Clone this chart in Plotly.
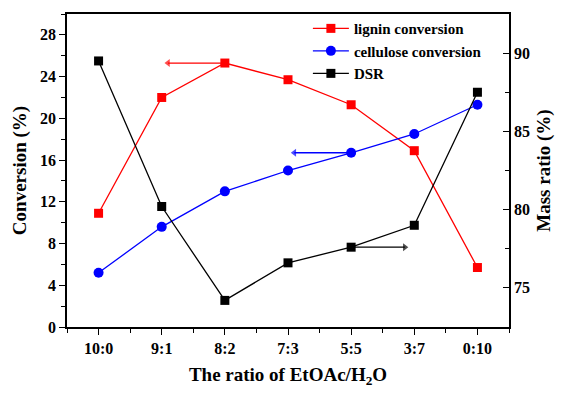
import plotly.graph_objects as go

categories = ["10:0", "9:1", "8:2", "7:3", "5:5", "3:7", "0:10"]
lignin = [10.9, 22.0, 25.3, 23.7, 21.3, 16.9, 5.7]
cellulose = [5.2, 9.6, 13.0, 15.0, 16.7, 18.5, 21.3]
dsr = [89.5, 80.2, 74.2, 76.6, 77.6, 79.0, 87.5]

xs = list(range(len(categories)))
FONT = "Liberation Serif"

fig = go.Figure()
fig.add_trace(go.Scatter(x=xs, y=lignin, name="lignin conversion", mode="lines+markers",
                         line=dict(color="#ff0000", width=1.3),
                         marker=dict(symbol="square", size=9, color="#ff0000")))
fig.add_trace(go.Scatter(x=xs, y=cellulose, name="cellulose conversion", mode="lines+markers",
                         line=dict(color="#0000ff", width=1.3),
                         marker=dict(symbol="circle", size=10, color="#0000ff")))
fig.add_trace(go.Scatter(x=xs, y=dsr, name="DSR", mode="lines+markers", yaxis="y2",
                         line=dict(color="#000000", width=1.3),
                         marker=dict(symbol="square", size=9, color="#000000")))


# arrows pointing to the axis each series belongs to (drawn as line + arrowhead marker)
def add_arrow(x0, x1, y, color, yaxis, head):
    fig.add_trace(go.Scatter(x=[x0, x1], y=[y, y], mode="lines+markers", yaxis=yaxis,
                             line=dict(color=color, width=1.3), showlegend=False, hoverinfo="skip",
                             marker=dict(symbol=["circle", head], size=[0, 7], color=color,
                                         line=dict(width=0))))


add_arrow(xs[2], xs[2] - 0.9, lignin[2], "#ff0000", "y", "triangle-left")
add_arrow(xs[4], xs[4] - 0.9, cellulose[4], "#0000ff", "y", "triangle-left")
add_arrow(xs[4], xs[4] + 0.85, dsr[4], "#000000", "y2", "triangle-right")

tickfont = dict(family=FONT, size=16, color="black", weight="bold")
titlefont = dict(family=FONT, size=19, color="black", weight="bold")

fig.update_layout(
    width=565, height=394,
    margin=dict(l=67, r=56, t=12, b=57),
    paper_bgcolor="white", plot_bgcolor="white",
    showlegend=True,
    legend=dict(x=0.545, y=1.006, xanchor="left", yanchor="top",
                font=dict(family=FONT, size=15, color="black", weight="bold"),
                bgcolor="rgba(0,0,0,0)", tracegroupgap=0, itemwidth=36),
    xaxis=dict(range=[-0.5, len(categories) - 0.5], tickvals=xs, ticktext=categories,
               showline=True, linecolor="black", linewidth=1.6, mirror=True,
               ticks="outside", ticklen=6, tickwidth=1.3, tickcolor="black",
               minor=dict(dtick=0.5, tick0=0.5, ticks="outside", ticklen=4, tickwidth=1.3, tickcolor="black"),
               showgrid=False, zeroline=False, tickfont=tickfont,
               title=dict(text="The ratio of EtOAc/H<sub>2</sub>O", font=titlefont, standoff=12)),
    yaxis=dict(range=[0, 30], tickvals=[0, 4, 8, 12, 16, 20, 24, 28],
               showline=True, linecolor="black", linewidth=1.6,
               ticks="outside", ticklen=6, tickwidth=1.3, tickcolor="black",
               minor=dict(dtick=2, ticks="outside", ticklen=4, tickwidth=1.3, tickcolor="black"),
               showgrid=False, zeroline=False, tickfont=tickfont,
               title=dict(text="Conversion (%)", font=titlefont, standoff=8)),
    yaxis2=dict(range=[72.5, 92.5], tickvals=[75, 80, 85, 90], overlaying="y", side="right",
                showline=True, linecolor="black", linewidth=1.6,
                ticks="inside", ticklen=6, tickwidth=1.3, tickcolor="black",
                minor=dict(dtick=2.5, tick0=72.5, ticks="inside", ticklen=4, tickwidth=1.3, tickcolor="black"),
                showgrid=False, zeroline=False, tickfont=tickfont,
                title=dict(text="Mass ratio (%)", font=titlefont, standoff=8)),
)

fig.write_html("out.html")
